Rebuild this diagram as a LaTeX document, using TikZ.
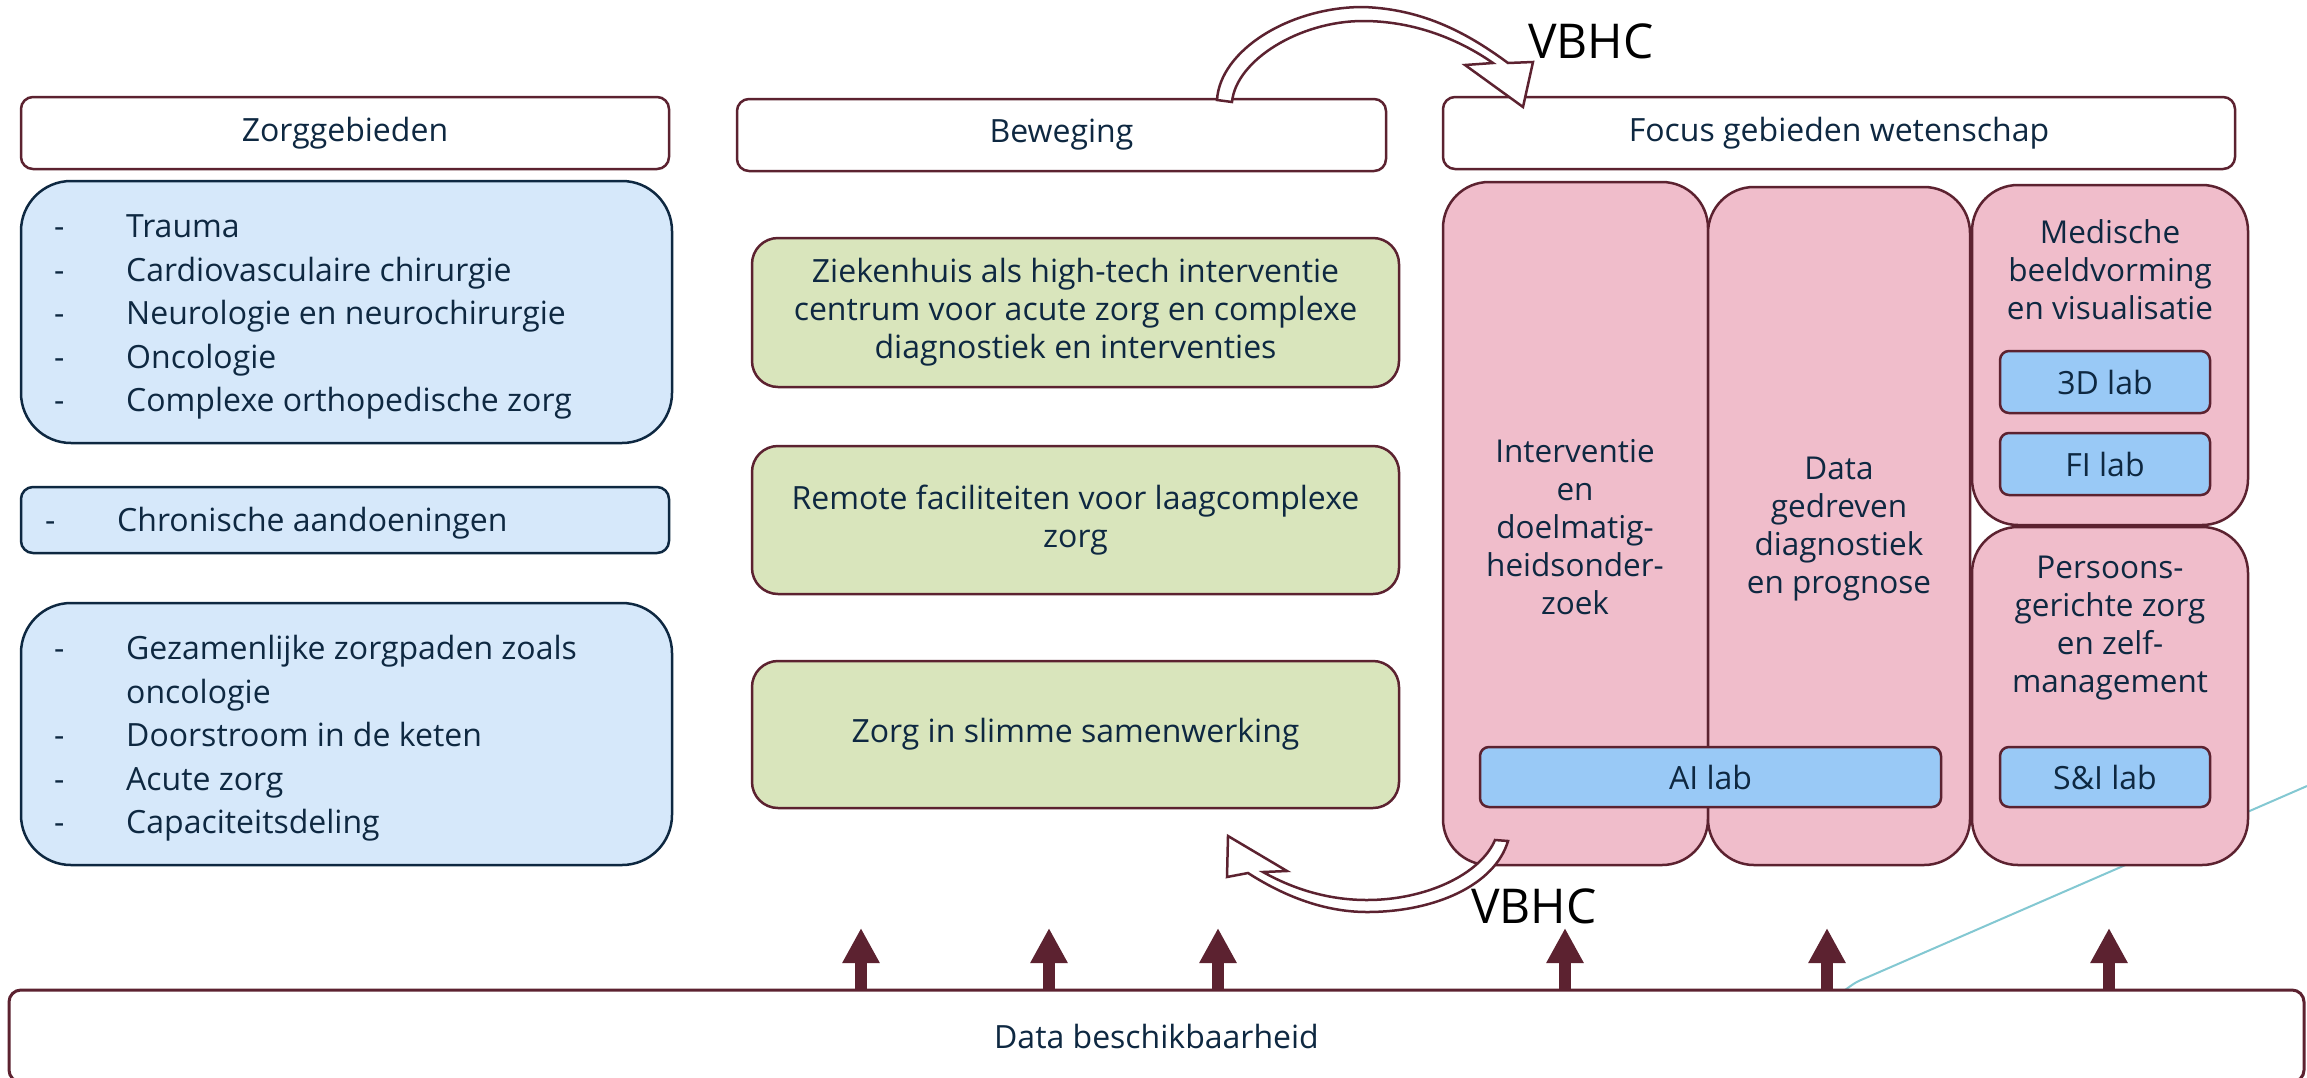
\documentclass[tikz,border=0pt]{standalone}
\usepackage{fontspec}
\setmainfont{Open Sans}
\usetikzlibrary{arrows.meta}

\definecolor{linemaroon}{HTML}{5C2230}
\definecolor{navytext}{HTML}{0E2841}
\definecolor{zorgblue}{HTML}{D6E8FA}
\definecolor{labblue}{HTML}{99C9F6}
\definecolor{bewgreen}{HTML}{D9E5BC}
\definecolor{focuspink}{HTML}{F0BDCB}
\definecolor{datateal}{HTML}{83C8D2}

\newcommand{\mainsize}{\fontsize{32}{43.5}\selectfont}
\newcommand{\pinksize}{\fontsize{31.5}{38}\selectfont}
\newcommand{\vbhcsize}{\fontsize{48}{58}\selectfont}

\tikzset{
  hdrbox/.style={draw=linemaroon, line width=2.5pt, rounded corners=12pt, fill=white,
    text=navytext, font=\mainsize, inner sep=0pt},
  zorgbox/.style={draw=navytext, line width=2.5pt, fill=zorgblue, inner sep=0pt},
  bewbox/.style={draw=linemaroon, line width=2.5pt, rounded corners=26pt, fill=bewgreen,
    text=navytext, font=\fontsize{32}{38}\selectfont, align=center, inner sep=0pt},
  focusbox/.style={draw=linemaroon, line width=2.5pt, rounded corners=46pt, fill=focuspink, inner sep=0pt},
  labbox/.style={draw=linemaroon, line width=2.5pt, rounded corners=9pt, fill=labblue,
    text=navytext, font=\mainsize, inner sep=0pt},
  listtext/.style={anchor=west, text=navytext, font=\mainsize, inner sep=0pt},
  focustext/.style={text=navytext, font=\pinksize, align=center, inner sep=0pt},
  uparrow/.style={linemaroon, line width=12pt, -{Triangle[width=35pt,length=35pt]}},
  hollowarrow/.style={draw=linemaroon, line width=2.5pt, fill=white, line join=miter}
}

\begin{document}
\begin{tikzpicture}[x=1pt, y=-1pt]
  \path[use as bounding box, fill=white] (0,0) rectangle (2307,1077);

  % headers
  \node[hdrbox, minimum width=648, minimum height=72] (zorghdr) at (345,133) {Zorggebieden};
  \node[hdrbox, minimum width=649, minimum height=72] (bewhdr) at (1061.5,135) {Beweging};
  \node[hdrbox, minimum width=792, minimum height=72] (focushdr) at (1839,133) {Focus gebieden wetenschap};

  % zorggebieden
  \node[zorgbox, rounded corners=50pt, minimum width=651, minimum height=262] (zorg1) at (346.5,312) {};
  \node[zorgbox, rounded corners=12pt, minimum width=648, minimum height=66] (zorg2) at (345,520) {};
  \node[zorgbox, rounded corners=50pt, minimum width=651, minimum height=262] (zorg3) at (346.5,734) {};
  \node[listtext] (zorg1txt) at (54,316) {\begin{tabular}{@{}p{72pt}@{}l@{}}
    - & Trauma\\
    - & Cardiovasculaire chirurgie\\
    - & Neurologie en neurochirurgie\\
    - & Oncologie\\
    - & Complexe orthopedische zorg
  \end{tabular}};
  \node[listtext] (zorg2txt) at (45,523) {\begin{tabular}{@{}p{72pt}@{}l@{}}
    - & Chronische aandoeningen
  \end{tabular}};
  \node[listtext] (zorg3txt) at (54,738) {\begin{tabular}{@{}p{72pt}@{}l@{}}
    - & Gezamenlijke zorgpaden zoals\\
      & oncologie\\
    - & Doorstroom in de keten\\
    - & Acute zorg\\
    - & Capaciteitsdeling
  \end{tabular}};

  % beweging
  \node[bewbox, minimum width=647, minimum height=149] (bew1) at (1075.5,312.5)
    {Ziekenhuis als high-tech interventie\\centrum voor acute zorg en complexe\\diagnostiek en interventies};
  \node[bewbox, minimum width=647, minimum height=148] (bew2) at (1075.5,520)
    {Remote faciliteiten voor laagcomplexe\\zorg};
  \node[bewbox, minimum width=647, minimum height=147] (bew3) at (1075.5,734.5)
    {Zorg in slimme samenwerking};

  % data line behind the focus boxes
  \coordinate (tealend) at (2307,786);
  \draw[datateal, line width=2pt] (1845,990) .. controls (1856,982) .. (1868,977) -- (tealend);

  % focus gebieden
  \node[focusbox, minimum width=265, minimum height=683] (focus1) at (1575.5,523.5) {};
  \node[focusbox, minimum width=262, minimum height=678] (focus2) at (1839,526) {};
  \node[focusbox, minimum width=276, minimum height=340] (focus3) at (2110,355) {};
  \node[focusbox, minimum width=276, minimum height=338] (focus4) at (2110,696) {};
  \node[focustext] (focus1txt) at (1575,527) {Interventie\\en\\doelmatig-\\heidsonder-\\zoek};
  \node[focustext] (focus2txt) at (1839,529) {Data\\gedreven\\diagnostiek\\en prognose};
  \node[focustext] (focus3txt) at (2110,270) {Medische\\beeldvorming\\en visualisatie};
  \node[focustext] (focus4txt) at (2110,628) {Persoons-\\gerichte zorg\\en zelf-\\management};

  % labs
  \node[labbox, minimum width=210, minimum height=62] (lab3d) at (2105,382) {3D lab};
  \node[labbox, minimum width=210, minimum height=62] (labfi) at (2105,464) {FI lab};
  \node[labbox, minimum width=461, minimum height=60] (labai) at (1710.5,777) {AI lab};
  \node[labbox, minimum width=210, minimum height=60] (labsi) at (2105,777) {S\&I lab};

  % data beschikbaarheid
  \node[hdrbox, line width=3pt, minimum width=2295, minimum height=92] (data) at (1156.5,1036) {Data beschikbaarheid};
  \foreach \ax [count=\i] in {861,1049,1218,1565,1827,2109} {
    \coordinate (tip\i) at (\ax,928);
    \draw[uparrow] (tip\i |- data.north) -- (tip\i);
  }

  % VBHC arrows
  \draw[hollowarrow] (1217,100) .. controls (1220,50) and (1290,7) .. (1363,7)
    .. controls (1425,9) and (1470,35) .. (1508,63) -- (1533,62) -- (1523,107) -- (1465,65) -- (1493,63)
    .. controls (1460,40) and (1415,21) .. (1363,21) .. controls (1300,21) and (1236,60) .. (1232,102) -- cycle;
  \node[anchor=base west, font=\vbhcsize, inner sep=0pt] (vbhctop) at (1528,58) {VBHC};

  \draw[hollowarrow] (1248,873) .. controls (1290,900) and (1330,912) .. (1367,912)
    .. controls (1435,912) and (1495,885) .. (1508,841) -- (1495,840)
    .. controls (1480,875) and (1425,900) .. (1367,900) .. controls (1330,900) and (1295,890) .. (1263,872)
    -- (1287,871) -- (1228,836) -- (1227,877) -- cycle;
  \node[anchor=base west, font=\vbhcsize, inner sep=0pt] (vbhcbot) at (1471,923) {VBHC};
\end{tikzpicture}
\end{document}
